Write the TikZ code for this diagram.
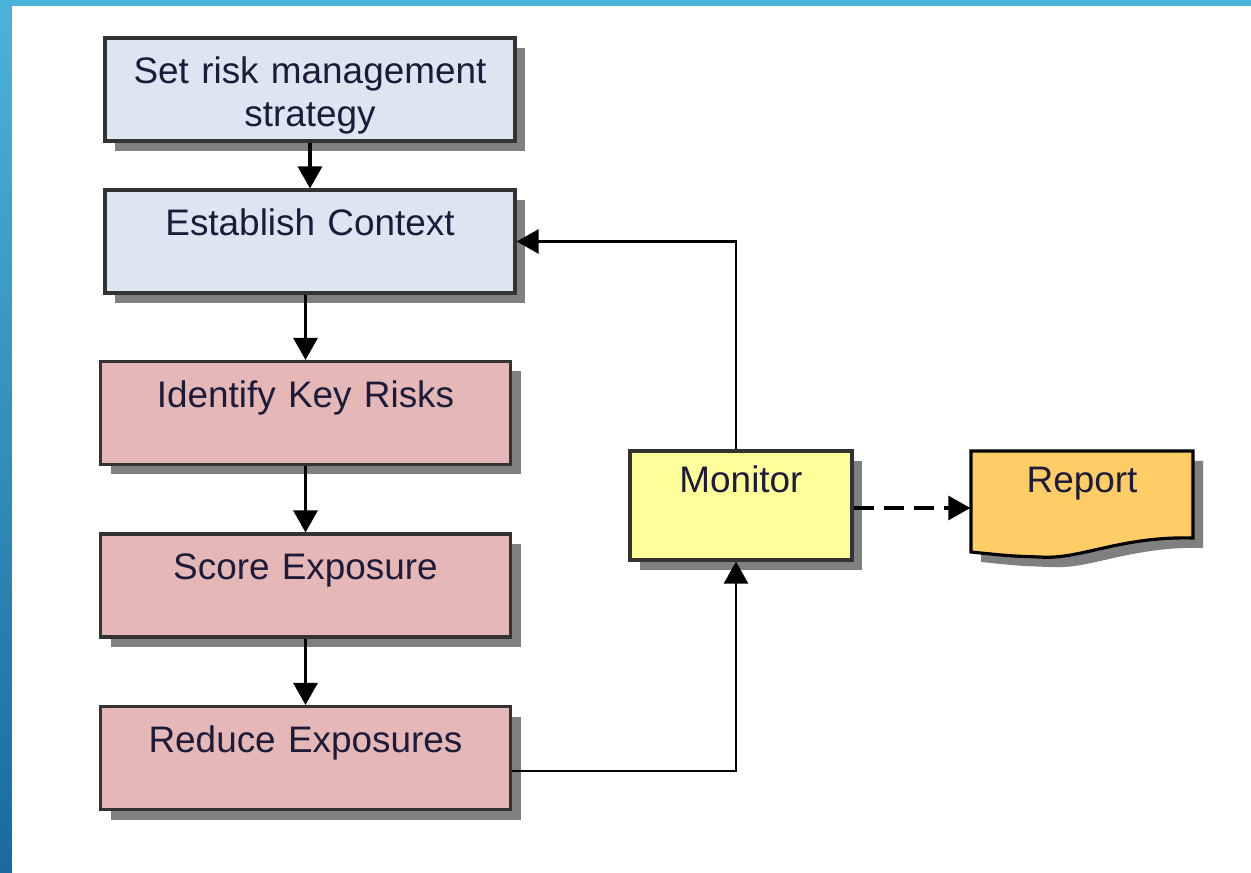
\documentclass[tikz,border=0pt]{standalone}
\usepackage{fontspec}
\setmainfont{Liberation Sans}
\usetikzlibrary{arrows.meta,shadows}
\definecolor{frametop}{RGB}{75,180,216}
\definecolor{framebottom}{RGB}{26,106,159}
\definecolor{contextblue}{RGB}{220,230,241}
\definecolor{riskpink}{RGB}{229,184,183}
\definecolor{monitoryellow}{RGB}{255,255,153}
\definecolor{reportorange}{RGB}{255,204,102}
\definecolor{labelnavy}{RGB}{28,28,58}

\begin{document}
\begin{tikzpicture}[x=1cm,y=1cm,font=\fontsize{10.5}{12}\selectfont,>={Triangle[width=0.24cm,length=0.22cm]},
    stepbox/.style={draw=black!80,line width=0.9pt,minimum width=4.1cm,text width=3.9cm,
      align=center,inner sep=0pt,text height=0.46cm,text depth=0.57cm,text=labelnavy,
      drop shadow={shadow xshift=0.1cm,shadow yshift=-0.1cm,fill=black!50,opacity=1}},
    flowarrow/.style={->,line width=0.9pt},
    loopline/.style={->,line width=0.7pt}]
    % slide frame
    \path[use as bounding box,fill=white] (0,0) rectangle (12.51,8.72);
    \shade[top color=frametop,bottom color=framebottom] (0,0) rectangle (0.12,8.72);
    \fill[frametop] (0,8.66) rectangle (12.51,8.72);
    % document shape behind the report node
    \fill[black!50,shift={(0.1,-0.1)}] (9.71,4.21) -- (11.93,4.21) -- (11.93,3.34)
      .. controls (11.2,3.36) and (10.8,3.12) .. (10.40,3.15)
      .. controls (10.1,3.16) .. (9.71,3.20) -- cycle;
    \filldraw[fill=reportorange,draw=black,line width=0.9pt] (9.71,4.21) -- (11.93,4.21) -- (11.93,3.34)
      .. controls (11.2,3.36) and (10.8,3.12) .. (10.40,3.15)
      .. controls (10.1,3.16) .. (9.71,3.20) -- cycle;
    \node[stepbox,fill=contextblue] (strategy) at (3.10,7.825) {Set risk management\\strategy};
    \node[stepbox,fill=contextblue] (context) at (3.10,6.305) {Establish Context};
    \node[stepbox,fill=riskpink] (identify) at (3.055,4.59) {Identify Key Risks};
    \node[stepbox,fill=riskpink] (score) at (3.055,2.865) {Score Exposure};
    \node[stepbox,fill=riskpink] (reduce) at (3.055,1.14) {Reduce Exposures};
    \node[stepbox,fill=monitoryellow,minimum width=2.22cm,text width=2.0cm,
      text height=0.42cm,text depth=0.67cm] (monitor) at (7.41,3.665) {Monitor};
    \node[minimum width=2.22cm,text width=2.0cm,align=center,inner sep=0pt,
      text height=0.42cm,text depth=0.58cm,text=labelnavy] (report) at (10.82,3.71) {Report};
    \draw[flowarrow] (strategy) -- (context);
    \draw[flowarrow] (context.south -| identify.north) -- (identify);
    \draw[flowarrow] (identify) -- (score);
    \draw[flowarrow] (score) -- (reduce);
    \draw[loopline] ([yshift=-0.13cm]reduce.east) -| ([xshift=-0.05cm]monitor.south);
    \draw[loopline] ([xshift=-0.05cm]monitor.north) |- (context.east);
    \draw[flowarrow,dash pattern=on 0.2cm off 0.1cm] ([yshift=-0.025cm]monitor.east)
      -- ([yshift=-0.025cm]monitor.east -| report.west);
  \end{tikzpicture}
\end{document}
